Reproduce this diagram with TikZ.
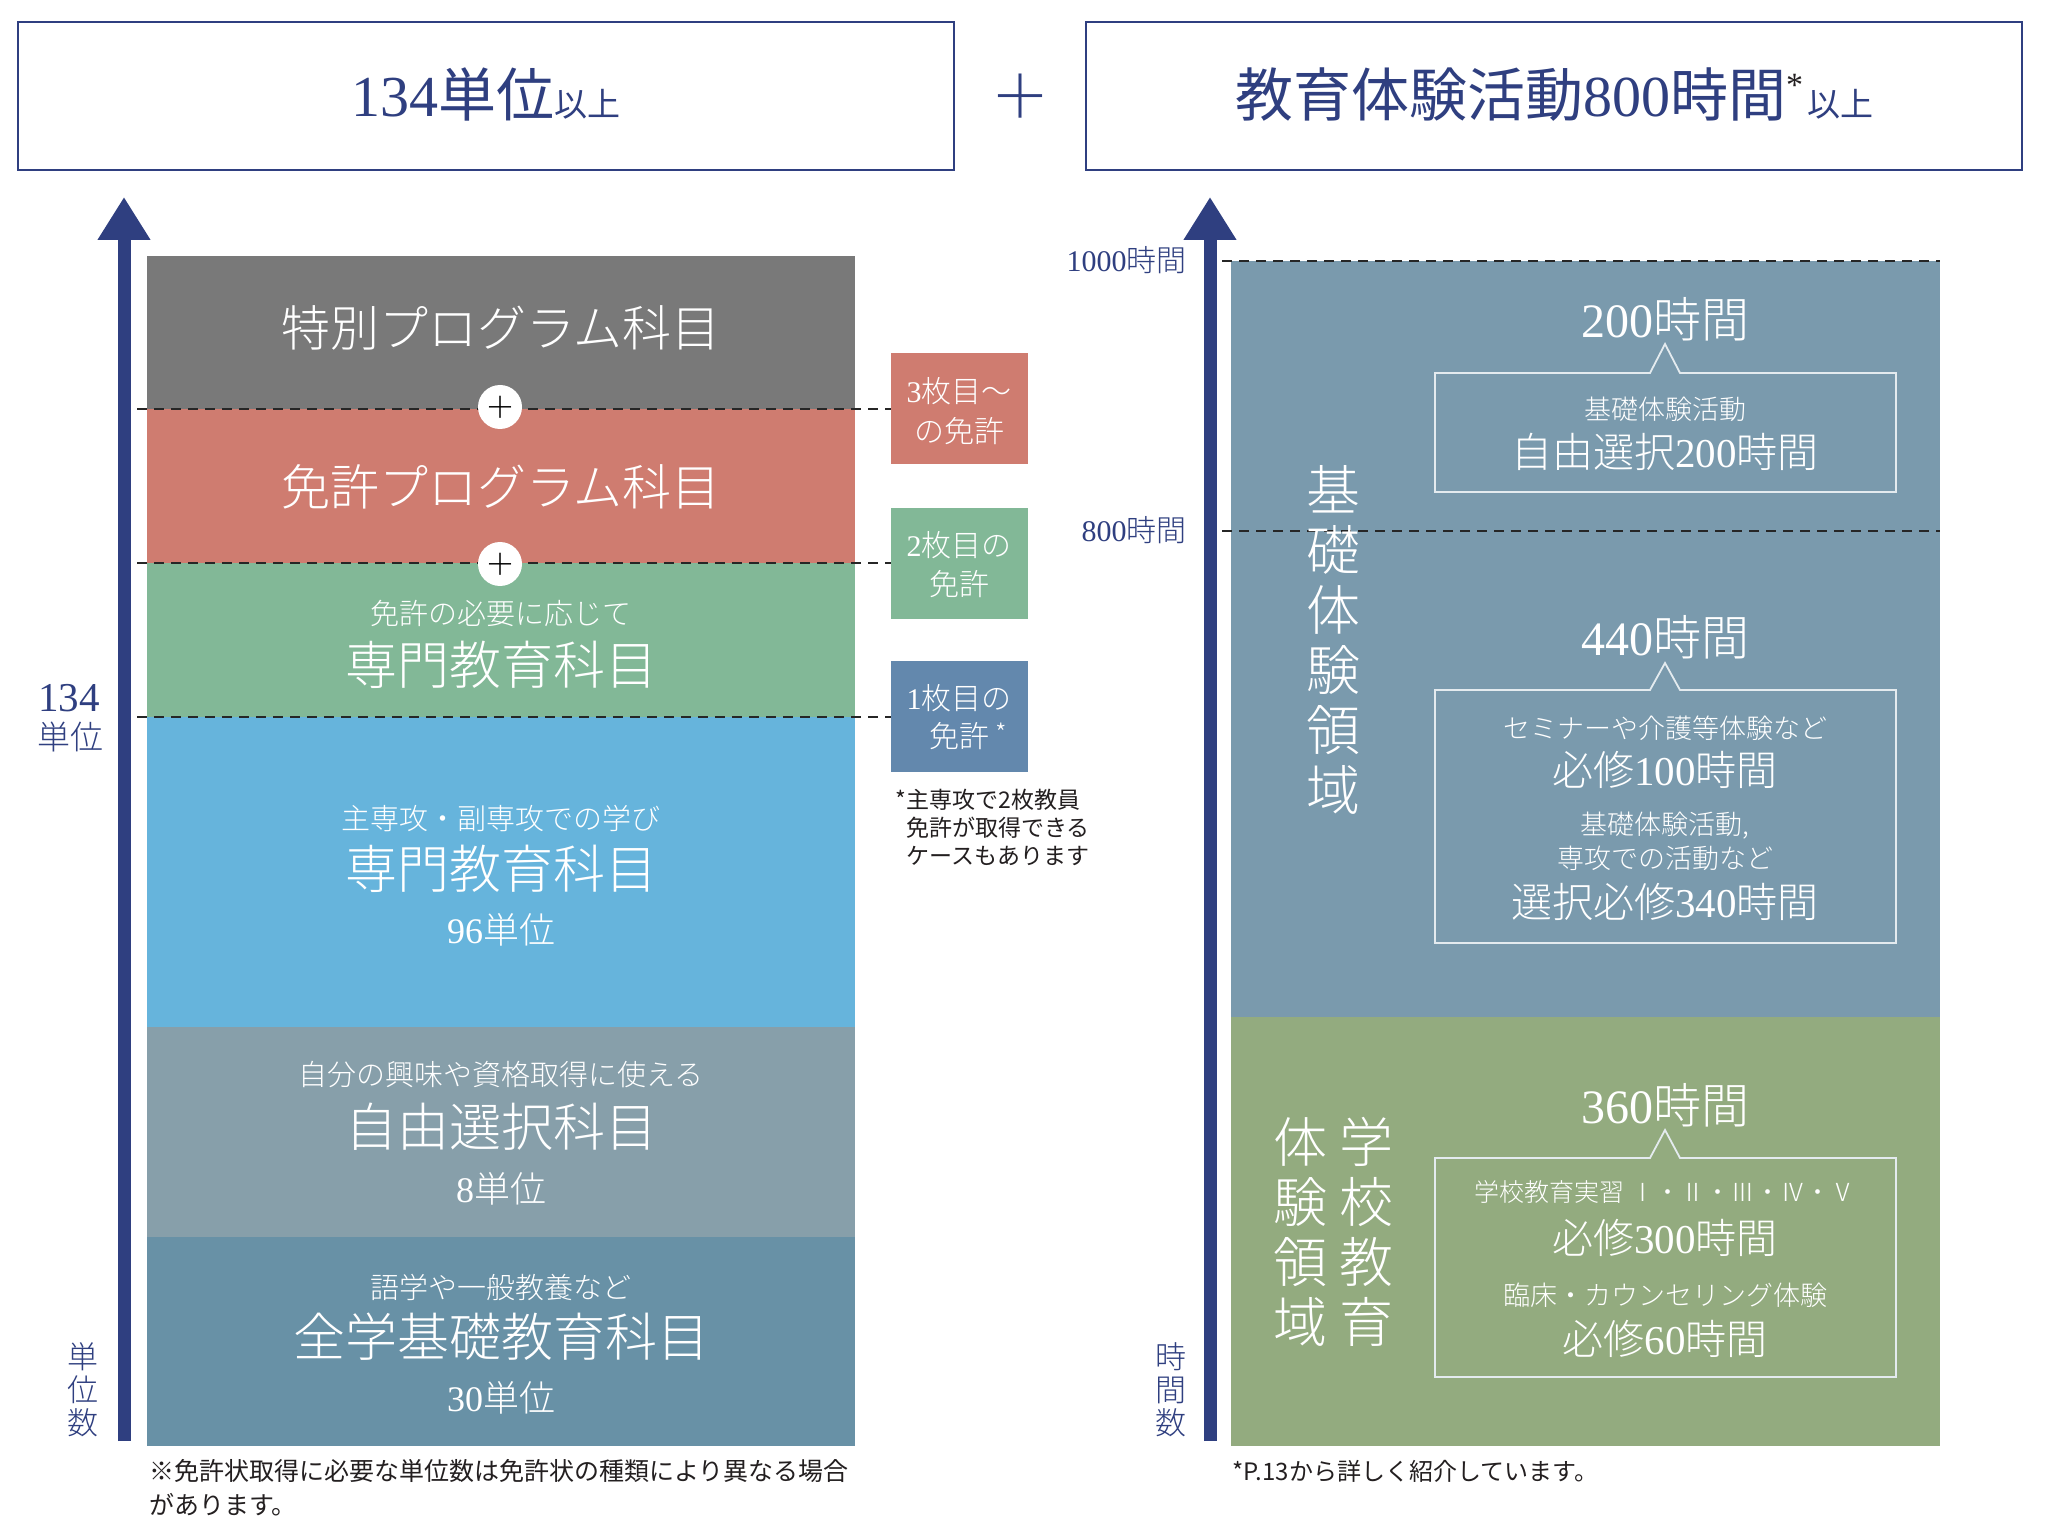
\documentclass[tikz,border=0pt]{standalone}
\usepackage{fontspec}
\setmainfont{Liberation Serif}
\newfontfamily\lat{Liberation Serif}
\newfontfamily\jp{Noto Sans CJK JP}
\IfFontExistsTF{Noto Sans CJK JP Light}{\newfontfamily\jpl{Noto Sans CJK JP Light}}{\newfontfamily\jpl{Noto Sans CJK JP}}
\usetikzlibrary{arrows.meta,fit}
\newcommand\fsz[2]{\fontsize{#1pt}{#2pt}\selectfont}
\definecolor{navy}{HTML}{2F3F80}
\definecolor{cgray}{HTML}{797979}
\definecolor{cred}{HTML}{CF7C70}
\definecolor{cgreen}{HTML}{82B897}
\definecolor{cblue}{HTML}{66B4DC}
\definecolor{cgb}{HTML}{879FAA}
\definecolor{csteel}{HTML}{6891A6}
\definecolor{cside}{HTML}{6388AD}
\definecolor{rtop}{HTML}{7A9AAD}
\definecolor{rgreen}{HTML}{93AB7F}
\definecolor{ink}{HTML}{231F20}
\begin{document}
\begin{tikzpicture}[x=0.5pt,y=-0.5pt,
  wt/.style={text=white,inner sep=0pt,anchor=center},
  nv/.style={text=navy,inner sep=0pt},
  blk/.style={inner sep=0pt,outer sep=0pt,draw=none},
  tbox/.style={draw=navy,line width=0.8pt,inner sep=0pt,outer sep=0pt},
  dashl/.style={black!85,line width=1pt,dash pattern=on 5pt off 3.5pt},
  axis/.style={navy,line width=6.5pt,-{Triangle[width=25pt,length=21.5pt]}},
  callout/.style={draw=white!80!rtop,line width=0.9pt},
  pluscirc/.style={circle,fill=white,draw=none,minimum size=22pt,inner sep=0pt,font=\jpl\fsz{15}{15},text=black},
  big/.style={font=\jpl\fsz{24.5}{28}},
  bigb/.style={font=\jpl\fsz{26}{30}},
  sub/.style={font=\jpl\fsz{14.5}{17}},
  units/.style={font=\jpl\fsz{18}{20}},
  side/.style={font=\jpl\fsz{15}{17}},
  hrs/.style={font=\jpl\fsz{24}{28}},
  req/.style={font=\jpl\fsz{20.5}{24}},
  csm/.style={font=\jpl\fsz{13.5}{16}},
  vert/.style={font=\jpl\fsz{27}{30},align=center},
  note/.style={text=ink,inner sep=0pt,align=left}]
\useasboundingbox (0,0) rectangle (2046,1535);
\fill[white] (0,0) rectangle (2046,1535);

% title boxes
\node[tbox,fit={(18,22) (954,170)}] (tb1) {};
\node[tbox,fit={(1086,22) (2022,170)}] (tb2) {};
\node[nv,anchor=base,font=\jp\fsz{29}{32}] (tt1) at (486,117) {{\lat 134}単位{\fsz{16.5}{18}以上}};
\node[nv,anchor=base,font=\jp\fsz{29}{32}] (tt2) at (1554,117) {教育体験活動{\lat 800}時間{\lat\color{ink}\raisebox{0.35em}{\fsz{17}{17}*}}\hspace{2pt}{\fsz{16.5}{18}以上}};
\node[nv,font=\jpl\fsz{30}{30}] (plus) at (1020,96) {＋};

% axes
\coordinate (la0) at (124,1441);
\coordinate (la1) at (124,197);
\coordinate (ra0) at (1210,1441);
\coordinate (ra1) at (1210,197);
\draw[axis] (la0) -- (la1);
\draw[axis] (ra0) -- (ra1);

% left blocks
\node[blk,fill=cgray,fit={(147,256) (855,409)}] (b1) {};
\node[blk,fill=cred,fit={(147,409) (855,563)}] (b2) {};
\node[blk,fill=cgreen,fit={(147,563) (855,717)}] (b3) {};
\node[blk,fill=cblue,fit={(147,717) (855,1027)}] (b4) {};
\node[blk,fill=cgb,fit={(147,1027) (855,1237)}] (b5) {};
\node[blk,fill=csteel,fit={(147,1237) (855,1446)}] (b6) {};

% side boxes
\node[blk,fill=cred,fit={(891,353) (1028,464)}] (s1) {};
\node[blk,fill=cgreen,fit={(891,508) (1028,619)}] (s2) {};
\node[blk,fill=cside,fit={(891,661) (1028,772)}] (s3) {};

% dashed lines left
\coordinate (d1a) at (137,409);
\coordinate (d2a) at (137,563);
\coordinate (d3a) at (137,717);
\draw[dashl] (d1a) -- (d1a -| s1.west);
\draw[dashl] (d2a) -- (d2a -| s2.west);
\draw[dashl] (d3a) -- (d3a -| s3.west);

\node[pluscirc] (p1) at (500,407) {＋};
\node[pluscirc] (p2) at (500,564) {＋};

% left block texts
\node[wt,big] (t11) at (501,328) {特別プログラム科目};
\node[wt,big] (t21) at (501,487) {免許プログラム科目};
\node[wt,sub] (t31) at (501,613) {免許の必要に応じて};
\node[wt,bigb] (t32) at (501,665) {専門教育科目};
\node[wt,sub] (t41) at (501,818) {主専攻・副専攻での学び};
\node[wt,bigb] (t42) at (501,869) {専門教育科目};
\node[wt,units] (t43) at (501,930) {{\lat 96}単位};
\node[wt,sub] (t51) at (501,1075) {自分の興味や資格取得に使える};
\node[wt,bigb] (t52) at (501,1127) {自由選択科目};
\node[wt,units] (t53) at (501,1189) {{\lat 8}単位};
\node[wt,sub] (t61) at (501,1287) {語学や一般教養など};
\node[wt,bigb] (t62) at (501,1337) {全学基礎教育科目};
\node[wt,units] (t63) at (501,1398) {{\lat 30}単位};

% side texts
\node[wt,side] (s11) at (959,391) {{\lat 3}枚目～};
\node[wt,side] (s12) at (959,431) {の免許};
\node[wt,side] (s21) at (959,545) {{\lat 2}枚目の};
\node[wt,side] (s22) at (959,584) {免許};
\node[wt,side] (s31) at (959,698) {{\lat 1}枚目の};
\node[wt,side] (s32) at (959,736) {免許\rlap{\hspace{3pt}\raisebox{2pt}{\fsz{13}{13}*}}};
\node[note,anchor=north west,font=\jp\fsz{11.5}{14}] (nt) at (906,789) {\llap{*}主専攻で2枚教員\\免許が取得できる\\ケースもあります};

% left axis labels
\node[nv,font=\lat\fsz{20.5}{22}] (l134) at (69,698) {134};
\node[nv,font=\jpl\fsz{16.5}{18}] (ltan) at (70,737) {単位};
\node[nv,font=\jpl\fsz{15.5}{16.5},align=center] (lsu) at (83,1390) {単\\位\\数};

% footnote left
\node[note,anchor=north west,font=\jp\fsz{12.5}{17}] (fn1) at (149,1459) {※免許状取得に必要な単位数は免許状の種類により異なる場合\\があります。};

% right blocks
\node[blk,fill=rtop,fit={(1231,261) (1940,1017)}] (r1) {};
\node[blk,fill=rgreen,fit={(1231,1017) (1940,1446)}] (r2) {};
\coordinate (rd1) at (1222,261);
\coordinate (rd2) at (1222,531);
\draw[dashl] (rd1) -- (rd1 -| r1.east);
\draw[dashl] (rd2) -- (rd2 -| r1.east);

\node[nv,anchor=east,font=\jpl\fsz{15}{17}] (h1000) at (1187,260) {{\lat 1000}時間};
\node[nv,anchor=east,font=\jpl\fsz{15}{17}] (h800) at (1187,530) {{\lat 800}時間};
\node[nv,font=\jpl\fsz{15.5}{16.5},align=center] (rsu) at (1171,1390) {時\\間\\数};

% vertical labels
\node[wt,vert] (v1) at (1333,640) {基\\礎\\体\\験\\領\\域};
\node[wt,vert] (v2) at (1366,1232) {学\\校\\教\\育};
\node[wt,vert] (v3) at (1300,1232) {体\\験\\領\\域};

% callouts
\draw[callout] (1435,373) -- (1650,373) -- (1665,344) -- (1680,373) -- (1896,373) -- (1896,492) -- (1435,492) -- cycle;
\draw[callout] (1435,690) -- (1650,690) -- (1665,663) -- (1680,690) -- (1896,690) -- (1896,943) -- (1435,943) -- cycle;
\draw[callout] (1435,1158) -- (1650,1158) -- (1665,1130) -- (1680,1158) -- (1896,1158) -- (1896,1377) -- (1435,1377) -- cycle;

\node[wt,hrs] (c11) at (1665,319) {{\lat 200}時間};
\node[wt,csm] (c12) at (1665,409) {基礎体験活動};
\node[wt,req] (c13) at (1665,452) {自由選択{\lat 200}時間};

\node[wt,hrs] (c21) at (1665,637) {{\lat 440}時間};
\node[wt,csm] (c22) at (1665,728) {セミナーや介護等体験など};
\node[wt,req] (c23) at (1665,770) {必修{\lat 100}時間};
\node[wt,csm] (c24) at (1665,826) {基礎体験活動,};
\node[wt,csm] (c25) at (1665,858) {専攻での活動など};
\node[wt,req] (c26) at (1665,902) {選択必修{\lat 340}時間};

\node[wt,hrs] (c31) at (1665,1105) {{\lat 360}時間};
\node[wt,font=\jpl\fsz{12.5}{15}] (c32) at (1665,1192) {学校教育実習 Ⅰ・Ⅱ・Ⅲ・Ⅳ・Ⅴ};
\node[wt,req] (c33) at (1665,1238) {必修{\lat 300}時間};
\node[wt,csm] (c34) at (1665,1295) {臨床・カウンセリング体験};
\node[wt,req] (c35) at (1665,1339) {必修{\lat 60}時間};

% footnote right
\node[note,anchor=west,font=\jp\fsz{12}{14}] (fn2) at (1232,1471) {*P.13から詳しく紹介しています。};
\end{tikzpicture}
\end{document}
